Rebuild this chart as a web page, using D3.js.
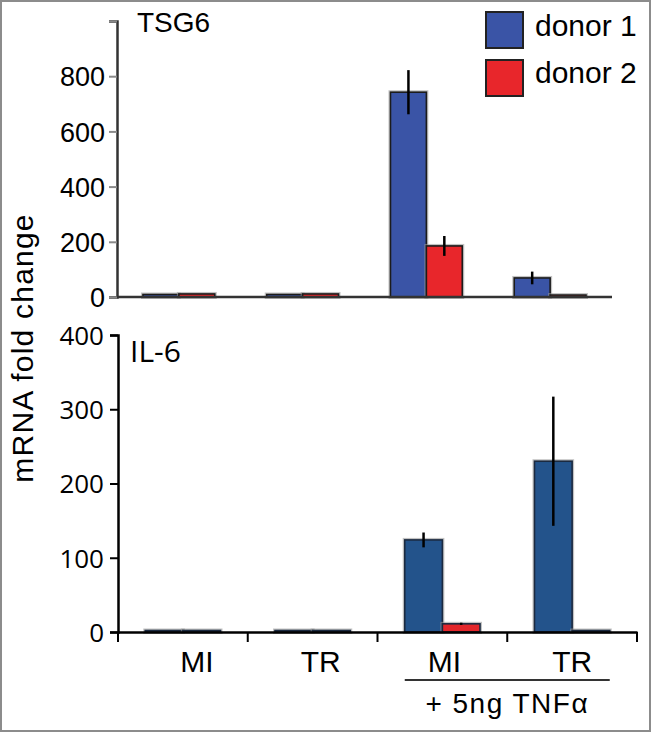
<!DOCTYPE html>
<html><head><meta charset="utf-8">
<script src="https://cdn.jsdelivr.net/npm/d3@7"></script>
<style>
html,body{margin:0;padding:0;background:#fff;}
svg{display:block;}
</style>
</head><body>
<script>
// ---- data ----
const categories = ["MI", "TR", "MI (TNF)", "TR (TNF)"];
const categoryLabels = ["MI", "TR", "MI", "TR"];
const seriesNames = ["donor 1", "donor 2"];

const tsg6Donor1 = [9, 9, 742, 69];
const tsg6Donor1Err = [0, 0, 80, 23];
const tsg6Donor2 = [11, 11, 185, 7];
const tsg6Donor2Err = [0, 0, 36, 0];

const il6Donor1 = [2, 2, 124, 230];
const il6Donor1Err = [0, 0, 10, 87];
const il6Donor2 = [2, 2, 11, 2];
const il6Donor2Err = [0, 0, 1.5, 0];

const tsg6Ticks = [0, 200, 400, 600, 800, 1000];
const il6Ticks = [0, 100, 200, 300, 400];

const W = 652, H = 733;
const svg = d3.select("body").append("svg").attr("width", W).attr("height", H);
svg.append("rect").attr("x", 1).attr("y", 1).attr("width", W - 3).attr("height", H - 3)
  .attr("fill", "#fff").attr("stroke", "#8c8c8c").attr("stroke-width", 2);

function panel(opt) {
  const x = d3.scaleBand().domain(categories).range(opt.xr).paddingInner(0.42).paddingOuter(0.21);
  const xs = d3.scaleBand().domain(seriesNames).range([0, x.bandwidth()]);
  const y = d3.scaleLinear().domain(opt.domain).range(opt.yr);
  const g = svg.append("g");
  const series = [
    {name: "donor 1", vals: opt.d1, err: opt.e1, color: opt.c1},
    {name: "donor 2", vals: opt.d2, err: opt.e2, color: opt.c2}
  ];
  series.forEach(s => {
    const gs = g.append("g");
    categories.forEach((c, i) => {
      const bx = x(c) + xs(s.name), bw = xs.bandwidth();
      const by = y(s.vals[i]), bh = y(0) - y(s.vals[i]);
      gs.append("rect").attr("x", bx).attr("y", by).attr("width", bw).attr("height", bh)
        .attr("fill", "none").attr("stroke", "#9a9a9a").attr("stroke-width", 4).attr("stroke-opacity", 0.6);
      gs.append("rect").attr("x", bx).attr("y", by).attr("width", bw).attr("height", bh)
        .attr("fill", s.color).attr("stroke", opt.stroke).attr("stroke-width", 1.6);
    });
  });
  series.forEach(s => {
    categories.forEach((c, i) => {
      if (!s.err[i]) return;
      const cx = x(c) + xs(s.name) + xs.bandwidth() / 2;
      g.append("line").attr("x1", cx).attr("x2", cx)
        .attr("y1", y(s.vals[i] + s.err[i])).attr("y2", y(s.vals[i] - s.err[i]))
        .attr("stroke", "#000").attr("stroke-width", 2.5);
    });
  });
  const ya = d3.axisLeft(y).tickValues(opt.ticks).tickSize(opt.tickLen).tickPadding(opt.tickPad)
    .tickFormat(d => opt.labelled(d) ? d : "");
  const yg = g.append("g").attr("transform", `translate(${opt.xr[0]},0)`).call(ya);
  yg.select(".domain").attr("stroke", opt.axisColor).attr("stroke-width", opt.axisW);
  yg.selectAll(".tick line").attr("stroke", opt.tickColor).attr("stroke-width", 2);
  yg.selectAll(".tick text").attr("font-family", opt.tickFont).attr("font-size", opt.tickSize)
    .attr("fill", "#000").attr("dy", "0.36em");
  if (opt.xTicks) {
    const xa = d3.axisBottom(x).tickValues([]).tickSizeOuter(0);
    const xg = g.append("g").attr("transform", `translate(0,${y(0)})`).call(xa);
    xg.select(".domain").attr("stroke", "#000").attr("stroke-width", opt.axisW);
    const bounds = categories.map(c => x(c) - x.step() * x.paddingInner() / 2);
    bounds.push(opt.xr[1]);
    bounds.forEach(b => g.append("line").attr("x1", b).attr("x2", b).attr("y1", y(0)).attr("y2", y(0) + 10)
      .attr("stroke", "#000").attr("stroke-width", 2));
  } else {
    g.append("line").attr("x1", opt.xr[0]).attr("x2", opt.xr[1]).attr("y1", y(0)).attr("y2", y(0))
      .attr("stroke", opt.axisColor).attr("stroke-width", opt.axisW);
  }
  g.append("text").attr("x", opt.titlePos[0]).attr("y", opt.titlePos[1]).text(opt.title)
    .attr("font-family", opt.titleFont).attr("font-size", opt.titleSize).attr("fill", "#000");
  return {x, y};
}

panel({
  xr: [117, 612], yr: [297, 21], domain: [0, 1000],
  d1: tsg6Donor1, e1: tsg6Donor1Err, d2: tsg6Donor2, e2: tsg6Donor2Err,
  c1: "#3a54a6", c2: "#e8262b", stroke: "#1c1c1c",
  ticks: tsg6Ticks, labelled: d => d < 1000, tickLen: 8, tickPad: 4,
  tickColor: "#8a8a8a", axisColor: "#333", axisW: 2.5,
  tickFont: "Liberation Sans, Arial, sans-serif", tickSize: 27,
  title: "TSG6", titlePos: [137, 32], titleFont: "Liberation Sans, Arial, sans-serif", titleSize: 28,
  xTicks: false
});

const bottom = panel({
  xr: [118, 637], yr: [632, 335], domain: [0, 400],
  d1: il6Donor1, e1: il6Donor1Err, d2: il6Donor2, e2: il6Donor2Err,
  c1: "#23538b", c2: "#e3262b", stroke: "#1b2a40",
  ticks: il6Ticks, labelled: d => true, tickLen: 8, tickPad: 6,
  tickColor: "#000", axisColor: "#000", axisW: 2.5,
  tickFont: "Open Sans, sans-serif", tickSize: 26,
  title: "IL-6", titlePos: [130, 362], titleFont: "Open Sans, sans-serif", titleSize: 30,
  xTicks: true
});

// category labels (first two sit a little right of their band centres in the original)
const labelShift = [14, 8, 2, 0];
categories.forEach((c, i) => {
  svg.append("text").attr("x", bottom.x(c) + bottom.x.bandwidth() / 2 + labelShift[i]).attr("y", 672)
    .attr("text-anchor", "middle").attr("font-family", "Liberation Sans, Arial, sans-serif")
    .attr("font-size", 30).attr("fill", "#000").text(categoryLabels[i]);
});
const lx1 = bottom.x(categories[2]), lx2 = bottom.x(categories[3]) + bottom.x.bandwidth();
svg.append("line").attr("x1", lx1).attr("x2", lx2).attr("y1", 680).attr("y2", 680)
  .attr("stroke", "#333").attr("stroke-width", 2);
svg.append("text").attr("x", (lx1 + lx2) / 2).attr("y", 713).attr("text-anchor", "middle")
  .attr("font-family", "Liberation Sans, Arial, sans-serif").attr("font-size", 28).attr("letter-spacing", 1.5)
  .attr("fill", "#000").text("+ 5ng TNFα");

svg.append("text").attr("transform", "translate(33,348) rotate(-90)").attr("text-anchor", "middle")
  .attr("font-family", "Liberation Sans, Arial, sans-serif").attr("font-size", 30).attr("letter-spacing", 1.2)
  .attr("fill", "#000").text("mRNA fold change");

const legColors = ["#3a54a6", "#e8262b"];
const legY = [12, 60], legBase = [36, 83];
seriesNames.forEach((s, i) => {
  svg.append("rect").attr("x", 486).attr("y", legY[i]).attr("width", 37).attr("height", 36)
    .attr("fill", legColors[i]).attr("stroke", "#222").attr("stroke-width", 2);
  svg.append("text").attr("x", 535).attr("y", legBase[i]).attr("font-family", "Liberation Sans, Arial, sans-serif")
    .attr("font-size", 30).attr("fill", "#000").text(s);
});
</script>
</body></html>
